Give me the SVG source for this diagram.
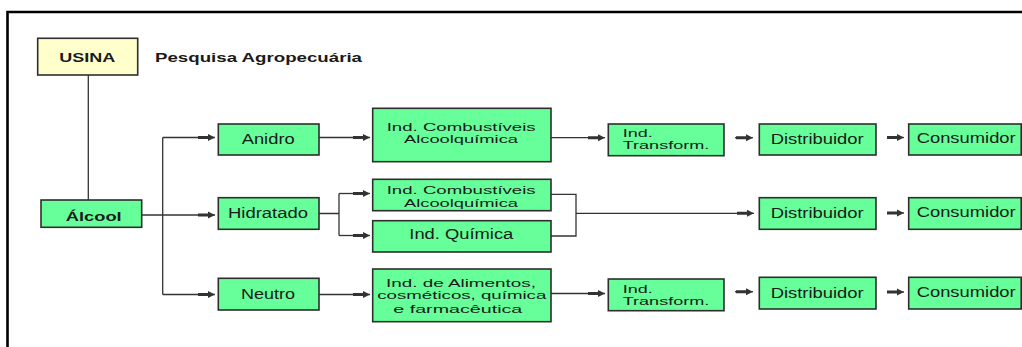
<svg xmlns="http://www.w3.org/2000/svg" width="1022" height="347" viewBox="0 0 1022 347">
<style>
.box{fill:#66FF99;stroke:#2e2e2e;stroke-width:1.6}
.usina{fill:#FFFFCC;stroke:#2e2e2e;stroke-width:1.6}
.t{font-family:"Liberation Sans",Arial,sans-serif;font-size:14px;fill:#1a1a1a}
.m{font-size:11.5px}
.b{font-weight:bold;font-size:13px}
.c{fill:none;stroke:#333;stroke-width:1.3}
.a{fill:none;stroke:#333;stroke-width:1.3;marker-end:url(#arr)}
</style>
<defs>
<marker id="arr" markerUnits="userSpaceOnUse" markerWidth="17" markerHeight="8" refX="17" refY="4" orient="auto" viewBox="0 0 17 8">
<path d="M0,2.5 H10 V0.5 L17,4 L10,7.5 V5.5 H0 Z" fill="#333"/>
</marker>
</defs>
<rect width="1022" height="347" fill="#fff"/>
<g id="frame">
<path d="M7.5,347 V12 H1022" fill="none" stroke="#000" stroke-width="2.6"/>
</g>
<g id="connectors">
<path class="c" d="M88.3,75 V200"/>
<path class="a" d="M141.7,215 H215"/>
<path class="c" d="M162.7,137.5 V294.5"/>
<path class="a" d="M162.7,137.5 H215"/>
<path class="a" d="M162.7,294.5 H215"/>
<path class="a" d="M319,137.5 H370"/>
<path class="c" d="M319,213.5 H339 M339,193.5 V235.5"/>
<path class="a" d="M339,193.5 H370"/>
<path class="a" d="M339,235.5 H370"/>
<path class="a" d="M319,294.5 H370"/>
<path class="a" d="M551,137.7 H605"/>
<path class="a" d="M551,293.5 H605"/>
<path class="c" d="M551,194.3 H576 V236 H551"/>
<path class="a" d="M576,213.3 H754"/>
<path class="a" d="M735,137.7 H753"/>
<path class="a" d="M735,291.7 H753"/>
<path class="a" d="M887,137.5 H904"/>
<path class="a" d="M887,213 H904"/>
<path class="a" d="M887,292 H904"/>
</g>
<g id="usina"><rect class="usina" x="37.7" y="38.3" width="100" height="36.7"/><text class="t b" x="59.3" y="61.7" textLength="56" lengthAdjust="spacingAndGlyphs">USINA</text></g>
<g id="pesquisa"><text class="t b" x="155" y="62" textLength="207" lengthAdjust="spacingAndGlyphs">Pesquisa Agropecuária</text></g>
<g id="alcool"><rect class="box" x="41" y="200" width="100.7" height="27.3"/><text class="t b" x="65.7" y="220.5" textLength="56" lengthAdjust="spacingAndGlyphs">Álcool</text></g>
<g id="anidro"><rect class="box" x="218.3" y="124" width="100.7" height="31"/><text class="t" x="241.7" y="144" textLength="53" lengthAdjust="spacingAndGlyphs">Anidro</text></g>
<g id="hidratado"><rect class="box" x="218.3" y="197.7" width="100.7" height="31.6"/><text class="t" x="228" y="218.3" textLength="80" lengthAdjust="spacingAndGlyphs">Hidratado</text></g>
<g id="neutro"><rect class="box" x="218.3" y="278.3" width="100.7" height="31.7"/><text class="t" x="241" y="299" textLength="54" lengthAdjust="spacingAndGlyphs">Neutro</text></g>
<g id="comb1"><rect class="box" x="372.7" y="108.3" width="178.3" height="53.4"/><text class="t m" x="386.7" y="130.7" textLength="149" lengthAdjust="spacingAndGlyphs">Ind. Combustíveis</text><text class="t m" x="404" y="143.3" textLength="114" lengthAdjust="spacingAndGlyphs">Alcoolquímica</text></g>
<g id="comb2"><rect class="box" x="372.7" y="179.3" width="178.3" height="31.4"/><text class="t m" x="386.7" y="194" textLength="149" lengthAdjust="spacingAndGlyphs">Ind. Combustíveis</text><text class="t m" x="404" y="206.7" textLength="114" lengthAdjust="spacingAndGlyphs">Alcoolquímica</text></g>
<g id="quimica"><rect class="box" x="372.7" y="220.7" width="178.3" height="31.3"/><text class="t" x="409.3" y="239.3" textLength="104" lengthAdjust="spacingAndGlyphs">Ind. Química</text></g>
<g id="alimentos"><rect class="box" x="372.7" y="269" width="178.3" height="52.7"/><text class="t m" x="386" y="286.7" textLength="150" lengthAdjust="spacingAndGlyphs">Ind. de Alimentos,</text><text class="t m" x="377.3" y="299.3" textLength="169" lengthAdjust="spacingAndGlyphs">cosméticos, química</text><text class="t m" x="393.3" y="312.7" textLength="129" lengthAdjust="spacingAndGlyphs">e farmacêutica</text></g>
<g id="transf1"><rect class="box" x="608.3" y="124" width="115.7" height="31.7"/><text class="t m" x="622.7" y="136.7" textLength="30" lengthAdjust="spacingAndGlyphs">Ind.</text><text class="t m" x="622.7" y="149.3" textLength="86.6" lengthAdjust="spacingAndGlyphs">Transform.</text></g>
<g id="transf2"><rect class="box" x="608.3" y="279" width="115.7" height="31.7"/><text class="t m" x="622.7" y="292.7" textLength="30" lengthAdjust="spacingAndGlyphs">Ind.</text><text class="t m" x="622.7" y="305" textLength="86.6" lengthAdjust="spacingAndGlyphs">Transform.</text></g>
<g id="dist1"><rect class="box" x="759.3" y="124" width="116.7" height="31"/><text class="t" x="770.7" y="144.3" textLength="93" lengthAdjust="spacingAndGlyphs">Distribuidor</text></g>
<g id="dist2"><rect class="box" x="759.3" y="197.7" width="116.7" height="31.6"/><text class="t" x="770.7" y="218.3" textLength="93" lengthAdjust="spacingAndGlyphs">Distribuidor</text></g>
<g id="dist3"><rect class="box" x="759.3" y="277.3" width="116.7" height="31.7"/><text class="t" x="770.7" y="297.7" textLength="93" lengthAdjust="spacingAndGlyphs">Distribuidor</text></g>
<g id="cons1"><rect class="box" x="908.7" y="124" width="112.5" height="31"/><text class="t" x="916.7" y="143.3" textLength="99" lengthAdjust="spacingAndGlyphs">Consumidor</text></g>
<g id="cons2"><rect class="box" x="908.7" y="197.7" width="112.5" height="31.6"/><text class="t" x="916.7" y="217.3" textLength="99" lengthAdjust="spacingAndGlyphs">Consumidor</text></g>
<g id="cons3"><rect class="box" x="908.7" y="277.3" width="112.5" height="31.7"/><text class="t" x="916.7" y="296.7" textLength="99" lengthAdjust="spacingAndGlyphs">Consumidor</text></g>
</svg>
